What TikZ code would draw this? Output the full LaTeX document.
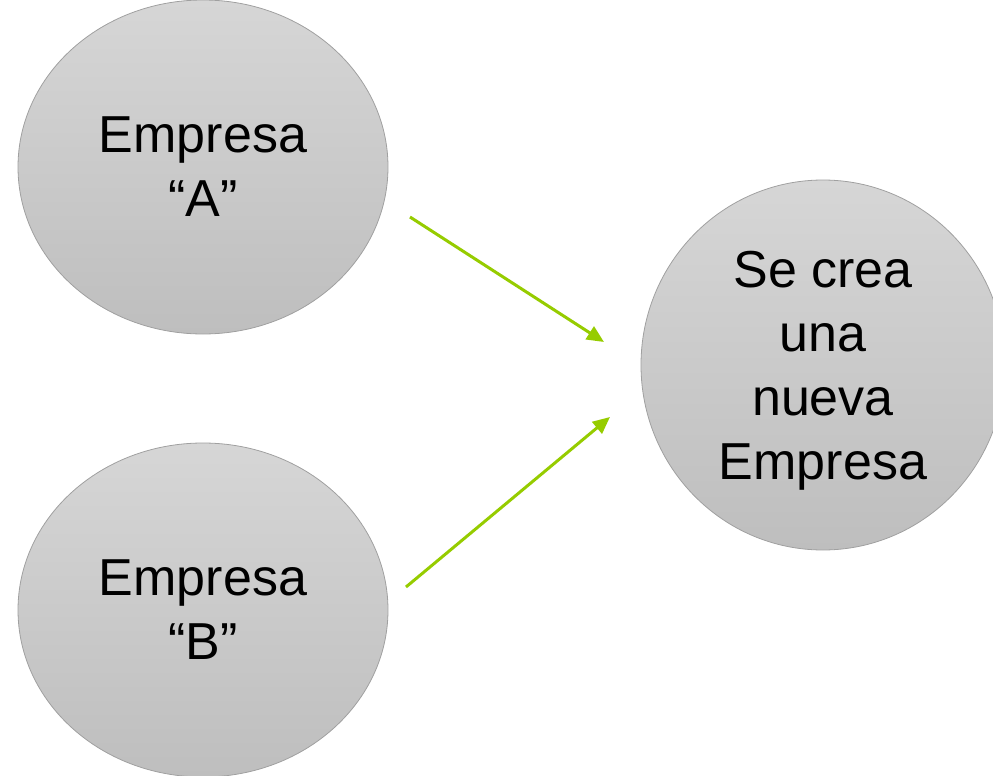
\documentclass[tikz,border=0pt]{standalone}
\usepackage{fontspec}
\setmainfont{Liberation Sans}
\usepackage{xcolor}
\usetikzlibrary{shapes.geometric,arrows.meta}

\definecolor{ovaltop}{RGB}{214,214,214}
\definecolor{ovalbottom}{RGB}{190,190,190}
\definecolor{ovalline}{RGB}{160,160,160}
\definecolor{arrowgreen}{RGB}{150,204,0}

\tikzset{
  empresa/.style={ellipse, draw=ovalline, thin, top color=ovaltop, bottom color=ovalbottom,
    align=center, inner sep=0pt, font=\fontsize{26}{32}\selectfont},
  flecha/.style={arrowgreen, line width=1.5pt, -{Triangle[length=8.5pt,width=7.5pt]}}
}

\begin{document}
\begin{tikzpicture}[x=0.5pt, y=-0.5pt]
  \useasboundingbox (0,0) rectangle (993,776);
  \node[empresa, minimum width=185pt, minimum height=167pt, text depth=-5pt] (empA) at (203,167) {Empresa\\``A''};
  \node[empresa, minimum width=185pt, minimum height=167pt, text depth=-5pt] (empB) at (203,610) {Empresa\\``B''};
  \node[empresa, minimum width=182pt, minimum height=185pt, text depth=-1.5pt] (nueva) at (823,365) {Se crea\\una\\nueva\\Empresa};
  \coordinate (salA) at (410,217);
  \coordinate (llegaA) at (604,342);
  \coordinate (salB) at (406,587);
  \coordinate (llegaB) at (610,417);
  \draw[flecha] (salA) -- (llegaA);
  \draw[flecha] (salB) -- (llegaB);
\end{tikzpicture}
\end{document}
